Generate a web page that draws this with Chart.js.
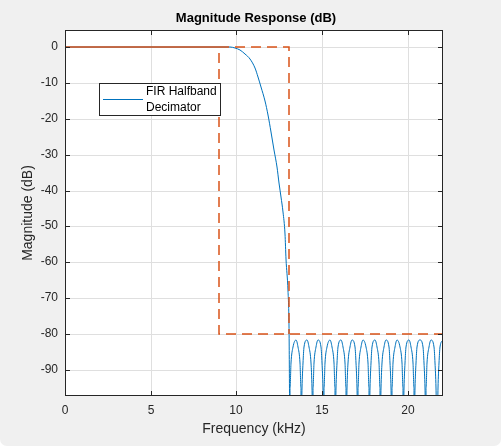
<!DOCTYPE html>
<html>
<head>
<meta charset="utf-8">
<script src="https://cdn.jsdelivr.net/npm/chart.js@4.4.1/dist/chart.umd.min.js"></script>
<style>
  html, body { margin: 0; padding: 0; background: #ffffff; }
  #wrap { width: 501px; height: 446px; background: #f0f0f0; border-radius: 0 0 7px 7px; overflow: hidden; }
  canvas { display: block; }
</style>
</head>
<body>
<div id="wrap"><canvas id="magChart" width="501" height="446"></canvas></div>
<script>
// filter response (kHz, dB)
const responseKHz = [
    0, 4, 8, 9.3, 9.6, 9.89, 10.2, 10.48, 10.78, 11.06, 11.25, 11.45, 11.65, 11.83, 12.02, 12.22,
    12.38, 12.51, 12.62, 12.71, 12.81, 12.9, 12.99, 13.05,
    13.12, 13.15, 13.21, 13.30, 13.45, 13.60, 13.69, 13.75,
    13.78, 13.81, 13.87, 13.96, 14.11, 14.26, 14.35, 14.41,
    14.44, 14.47, 14.53, 14.62, 14.77, 14.92, 15.01, 15.07,
    15.10, 15.13, 15.19, 15.28, 15.43, 15.58, 15.67, 15.73,
    15.76, 15.79, 15.85, 15.94, 16.09, 16.24, 16.33, 16.39,
    16.42, 16.45, 16.51, 16.60, 16.75, 16.90, 16.99, 17.05,
    17.08, 17.11, 17.17, 17.26, 17.41, 17.56, 17.65, 17.71,
    17.74, 17.77, 17.83, 17.92, 18.07, 18.22, 18.31, 18.37,
    18.40, 18.43, 18.49, 18.58, 18.73, 18.88, 18.97, 19.03,
    19.06, 19.09, 19.15, 19.24, 19.39, 19.54, 19.63, 19.69,
    19.72, 19.75, 19.81, 19.90, 20.05, 20.20, 20.29, 20.35,
    20.38, 20.41, 20.47, 20.56, 20.71, 20.86, 20.95, 21.01,
    21.04, 21.07, 21.13, 21.22, 21.37, 21.52, 21.61, 21.67,
    21.70, 21.73, 21.79, 21.88, 22.05
];
const responseDb = [
    0, 0, 0, -0.03, -0.1, -0.35, -0.9, -1.85, -3.5, -6.0, -8.4, -11.3, -15.0, -19.0, -23.6, -28.8,
    -33.5, -37.8, -41.8, -46.0, -52, -59, -68, -77.8,
    -110, -95, -88, -83.5, -81.6, -83.5, -88, -95,
    -110, -95, -88, -83.5, -81.6, -83.5, -88, -95,
    -110, -95, -88, -83.5, -81.6, -83.5, -88, -95,
    -110, -95, -88, -83.5, -81.6, -83.5, -88, -95,
    -110, -95, -88, -83.5, -81.6, -83.5, -88, -95,
    -110, -95, -88, -83.5, -81.6, -83.5, -88, -95,
    -110, -95, -88, -83.5, -81.6, -83.5, -88, -95,
    -110, -95, -88, -83.5, -81.6, -83.5, -88, -95,
    -110, -95, -88, -83.5, -81.6, -83.5, -88, -95,
    -110, -95, -88, -83.5, -81.6, -83.5, -88, -95,
    -110, -95, -88, -83.5, -81.6, -83.5, -88, -95,
    -110, -95, -88, -83.5, -81.6, -83.5, -88, -95,
    -110, -95, -88, -83.5, -81.6, -83.5, -88, -95,
    -110, -95, -88, -83.5, -81.6
];

// spec mask
const maskPassKHz = [0, 9];
const maskPassDb = [0, 0];
const maskUpperKHz = [9, 13.05, 13.05];
const maskUpperDb = [0, 0, -80];
const maskLowerKHz = [9, 9, 22.05];
const maskLowerDb = [0, -80, -80];

const xTicks = [0, 5, 10, 15, 20];
const yTicks = [0, -10, -20, -30, -40, -50, -60, -70, -80, -90];

const seriesLabel = ['FIR Halfband', 'Decimator'];

const blue = '#0072bd';
const red = '#d95319';
const fontFamily = '"Liberation Sans", Arial, Helvetica, sans-serif';

function toPoints(xs, ys) {
    return xs.map((x, i) => ({ x: x, y: ys[i] }));
}

// white axes area, box, inward ticks, title and legend
const frame = {
    id: 'frame',
    beforeDraw(chart) {
        const { ctx, chartArea: a } = chart;
        ctx.save();
        ctx.fillStyle = '#ffffff';
        ctx.fillRect(a.left, a.top, a.right - a.left, a.bottom - a.top);
        ctx.restore();
    },
    afterDraw(chart) {
        const { ctx, chartArea: a, scales } = chart;
        ctx.save();
        ctx.strokeStyle = '#262626';
        ctx.lineWidth = 1;
        ctx.strokeRect(a.left + 0.5, a.top + 0.5, a.right - a.left - 1, a.bottom - a.top - 1);
        ctx.beginPath();
        xTicks.forEach(v => {
            const px = Math.round(scales.x.getPixelForValue(v)) + 0.5;
            ctx.moveTo(px, a.bottom); ctx.lineTo(px, a.bottom - 5);
            ctx.moveTo(px, a.top); ctx.lineTo(px, a.top + 5);
        });
        yTicks.forEach(v => {
            const py = Math.round(scales.y.getPixelForValue(v)) + 0.5;
            ctx.moveTo(a.left, py); ctx.lineTo(a.left + 5, py);
            ctx.moveTo(a.right, py); ctx.lineTo(a.right - 5, py);
        });
        ctx.stroke();

        // title
        ctx.fillStyle = '#000000';
        ctx.font = 'bold 13px ' + fontFamily;
        ctx.textAlign = 'center';
        ctx.textBaseline = 'middle';
        ctx.fillText('Magnitude Response (dB)', (a.left + a.right) / 2 + 2, 18);

        // legend box
        const lx = a.left + 34, ly = a.top + 53, lw = 122, lh = 33;
        ctx.fillStyle = '#ffffff';
        ctx.fillRect(lx, ly, lw, lh);
        ctx.strokeStyle = '#262626';
        ctx.strokeRect(lx + 0.5, ly + 0.5, lw - 1, lh - 1);
        ctx.strokeStyle = blue;
        ctx.beginPath();
        ctx.moveTo(lx + 4, ly + 16.5);
        ctx.lineTo(lx + 44, ly + 16.5);
        ctx.stroke();
        ctx.fillStyle = '#000000';
        ctx.font = '12px ' + fontFamily;
        ctx.textAlign = 'left';
        ctx.fillText(seriesLabel[0], lx + 47, ly + 9);
        ctx.fillText(seriesLabel[1], lx + 47, ly + 25);
        ctx.restore();
    }
};

Chart.defaults.font.family = fontFamily;
Chart.defaults.font.size = 12;
Chart.defaults.color = '#262626';

new Chart(document.getElementById('magChart'), {
    type: 'line',
    data: {
        datasets: [
            {
                label: 'Mask pass',
                data: toPoints(maskPassKHz, maskPassDb),
                borderColor: red,
                borderWidth: 1.5,
                pointRadius: 0,
                order: 0
            },
            {
                label: 'Mask upper',
                data: toPoints(maskUpperKHz, maskUpperDb),
                borderColor: red,
                borderWidth: 1.5,
                borderDash: [10, 6],
                pointRadius: 0,
                order: 0
            },
            {
                label: 'Mask lower',
                data: toPoints(maskLowerKHz, maskLowerDb),
                borderColor: red,
                borderWidth: 1.5,
                borderDash: [10, 6],
                borderDashOffset: 10,
                pointRadius: 0,
                order: 0
            },
            {
                label: seriesLabel.join(' '),
                data: toPoints(responseKHz, responseDb),
                borderColor: blue,
                borderWidth: 1,
                pointRadius: 0,
                cubicInterpolationMode: 'monotone',
                order: 1
            }
        ]
    },
    options: {
        responsive: false,
        animation: false,
        layout: { padding: { top: 30, right: 58, bottom: 0, left: 0 } },
        plugins: {
            legend: { display: false },
            tooltip: { enabled: false }
        },
        scales: {
            x: {
                type: 'linear',
                min: 0,
                max: 22.05,
                alignToPixels: true,
                afterFit: s => { s.height = 50; },
                afterBuildTicks: s => { s.ticks = xTicks.map(v => ({ value: v })); },
                grid: { color: '#dfdfdf', drawTicks: false },
                border: { display: false },
                ticks: { padding: 7, maxRotation: 0 },
                title: {
                    display: true,
                    text: 'Frequency (kHz)',
                    font: { size: 14 },
                    padding: { top: 0, bottom: 8.6 }
                }
            },
            y: {
                type: 'linear',
                min: -97.2,
                max: 4.7,
                alignToPixels: true,
                afterFit: s => { s.width = 65; },
                afterBuildTicks: s => { s.ticks = yTicks.map(v => ({ value: v })); },
                grid: { color: '#dfdfdf', drawTicks: false },
                border: { display: false },
                ticks: { padding: 7 },
                title: {
                    display: true,
                    text: 'Magnitude (dB)',
                    font: { size: 14 },
                    padding: { top: 19.6, bottom: 0 }
                }
            }
        }
    },
    plugins: [frame]
});
</script>
</body>
</html>
